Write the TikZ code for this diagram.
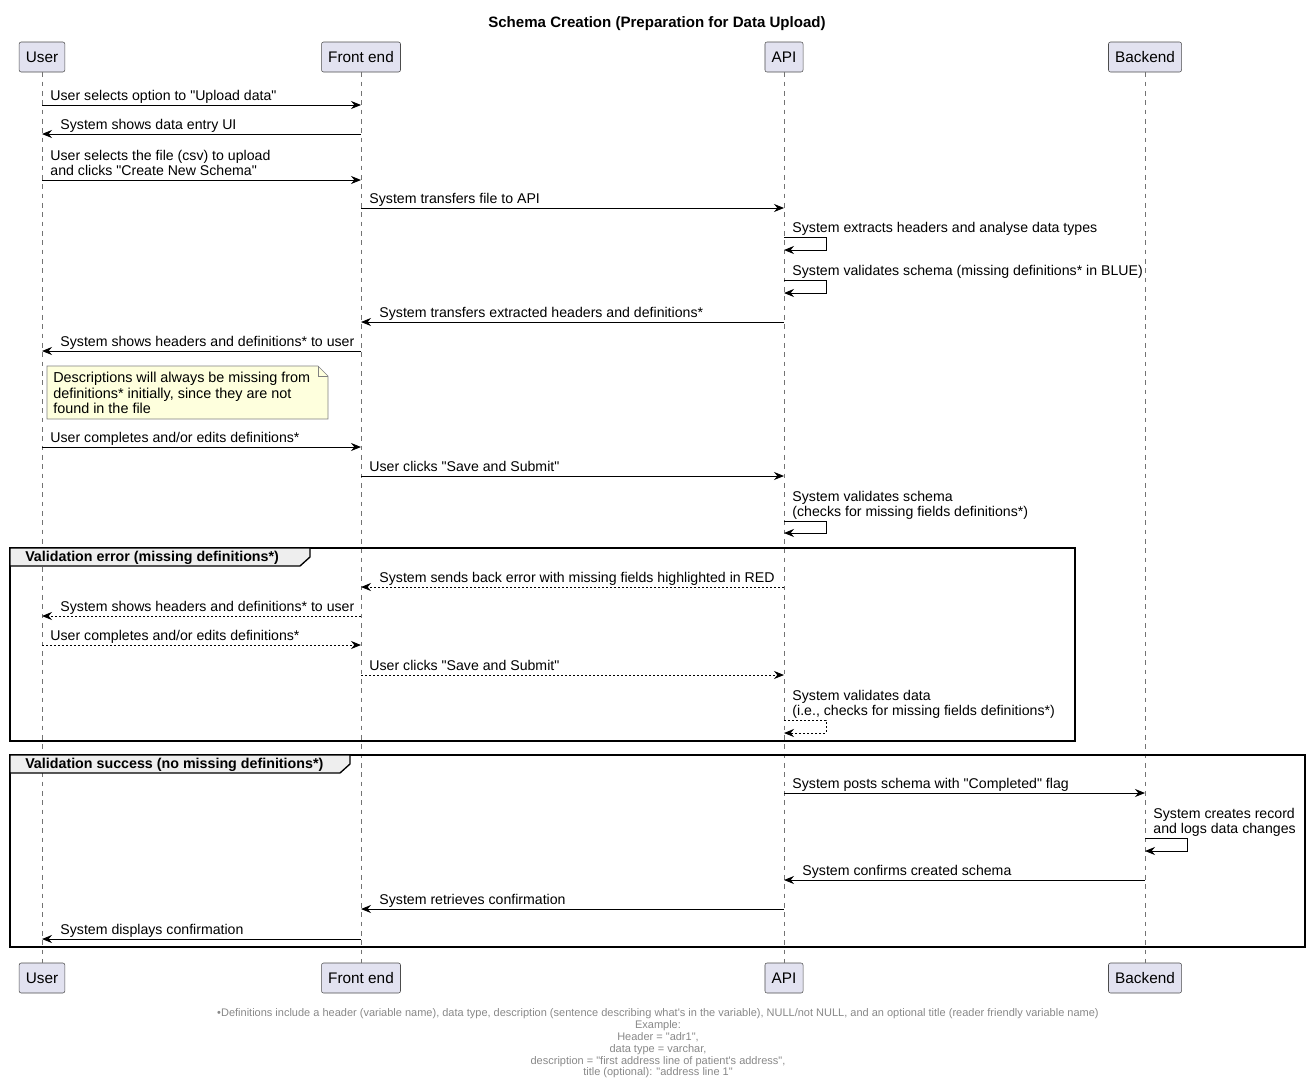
\documentclass[tikz,border=0pt]{standalone}
\usepackage{fontspec}
\setmainfont{Liberation Sans}
\usetikzlibrary{arrows.meta}

\definecolor{partfill}{HTML}{E2E2F0}
\definecolor{notefill}{HTML}{FEFFDD}
\definecolor{tabfill}{HTML}{EEEEEE}
\definecolor{footgray}{HTML}{888888}

\newcommand{\dq}{\textquotedbl}

\tikzset{
  part/.style={draw=black!70, fill=partfill, rounded corners=1.5pt, minimum height=22.5pt,
    inner xsep=5pt, font=\fontsize{11.5}{13}\selectfont},
  lifeline/.style={draw=black!55, line width=0.5pt, dash pattern=on 3.5pt off 3.5pt},
  msg/.style={draw=black, line width=0.7pt, -{Stealth[length=7.5pt,width=6pt,inset=2.5pt]}},
  reply/.style={msg, dash pattern=on 1.5pt off 1.5pt},
  lbl/.style={anchor=south west, inner sep=0pt, xshift=6pt, yshift=-0.7pt, align=left,
    font=\fontsize{10.6}{11.25}\selectfont, execute at end node=\strut},
  lblback/.style={lbl, xshift=7.5pt},
  grp/.style={draw=black, line width=1.2pt},
  grptab/.style={draw=black, line width=1pt, fill=tabfill},
  grplbl/.style={anchor=west, inner sep=0pt, font=\bfseries\fontsize{10.7}{12}\selectfont},
  notebox/.style={draw=black!50, line width=0.5pt, fill=notefill},
  notetext/.style={anchor=north west, inner sep=0pt, align=left,
    font=\fontsize{10.8}{11.6}\selectfont},
}

\begin{document}
\begin{tikzpicture}[x=0.75pt, y=-0.75pt]
  \useasboundingbox (0,0) rectangle (1310,1085);

  \node[font=\bfseries\fontsize{11.3}{13}\selectfont] (title) at (657,23.5)
    {Schema Creation (Preparation for Data Upload)};

  % participants
  \node[part] (userT) at (42,57) {User};
  \node[part] (feT) at (361,57) {Front end};
  \node[part] (apiT) at (784,57) {API};
  \node[part] (beT) at (1145,57) {Backend};
  \node[part] (userB) at (42,978) {User};
  \node[part] (feB) at (361,978) {Front end};
  \node[part] (apiB) at (784,978) {API};
  \node[part] (beB) at (1145,978) {Backend};

  \draw[lifeline] (userT) -- (userB);
  \draw[lifeline] (feT) -- (feB);
  \draw[lifeline] (apiT) -- (apiB);
  \draw[lifeline] (beT) -- (beB);

  % rows
  \coordinate (r1) at (0,105);
  \coordinate (r2) at (0,134);
  \coordinate (r3) at (0,180);
  \coordinate (r4) at (0,208);
  \coordinate (r5) at (0,237);  \coordinate (r5b) at (0,250);
  \coordinate (r6) at (0,280);  \coordinate (r6b) at (0,293);
  \coordinate (r7) at (0,322);
  \coordinate (r8) at (0,351);
  \coordinate (r9) at (0,447);
  \coordinate (r10) at (0,476);
  \coordinate (r11) at (0,521); \coordinate (r11b) at (0,533);
  \coordinate (r12) at (0,587);
  \coordinate (r13) at (0,616);
  \coordinate (r14) at (0,645);
  \coordinate (r15) at (0,675);
  \coordinate (r16) at (0,720); \coordinate (r16b) at (0,733);
  \coordinate (r17) at (0,793);
  \coordinate (r18) at (0,838); \coordinate (r18b) at (0,851);
  \coordinate (r19) at (0,880);
  \coordinate (r20) at (0,909);
  \coordinate (r21) at (0,939);

  % groups
  \draw[grp] (10,548) rectangle (1075,741);
  \draw[grptab] (10,548) -- (310,548) -- (310,557) -- (300,566) -- (10,566) -- cycle;
  \node[grplbl] (errlbl) at (25,558) {Validation error (missing definitions*)};
  \draw[grp] (10,755) rectangle (1305,947);
  \draw[grptab] (10,755) -- (350,755) -- (350,764) -- (340,773) -- (10,773) -- cycle;
  \node[grplbl] (oklbl) at (25,765) {Validation success (no missing definitions*)};

  % note
  \draw[notebox] (47,366) -- (318,366) -- (328,376) -- (328,419) -- (47,419) -- cycle;
  \draw[notebox, fill=none] (318,366) |- (328,376);
  \node[notetext] (note) at (53,372)
    {Descriptions will always be missing from\\definitions* initially, since they are not\\found in the file};

  % messages
  \draw[msg] (userT |- r1) -- (feT |- r1) node[lbl, at start] {User selects option to \dq Upload data\dq};
  \draw[msg] (feT |- r2) -- (userT |- r2) node[lblback, at end] {System shows data entry UI};
  \draw[msg] (userT |- r3) -- (feT |- r3) node[lbl, at start]
    {User selects the file (csv) to upload\\and clicks \dq Create New Schema\dq};
  \draw[msg] (feT |- r4) -- (apiT |- r4) node[lbl, at start] {System transfers file to API};
  \draw[msg] (apiT |- r5) node[lbl] {System extracts headers and analyse data types}
    -- ++(42,0) |- (apiT |- r5b);
  \draw[msg] (apiT |- r6) node[lbl] {System validates schema (missing definitions* in BLUE)}
    -- ++(42,0) |- (apiT |- r6b);
  \draw[msg] (apiT |- r7) -- (feT |- r7) node[lblback, at end]
    {System transfers extracted headers and definitions*};
  \draw[msg] (feT |- r8) -- (userT |- r8) node[lblback, at end]
    {System shows headers and definitions* to user};
  \draw[msg] (userT |- r9) -- (feT |- r9) node[lbl, at start] {User completes and/or edits definitions*};
  \draw[msg] (feT |- r10) -- (apiT |- r10) node[lbl, at start] {User clicks \dq Save and Submit\dq};
  \draw[msg] (apiT |- r11) node[lbl]
    {System validates schema\\(checks for missing fields definitions*)}
    -- ++(42,0) |- (apiT |- r11b);

  \draw[reply] (apiT |- r12) -- (feT |- r12) node[lblback, at end]
    {System sends back error with missing fields highlighted in RED};
  \draw[reply] (feT |- r13) -- (userT |- r13) node[lblback, at end]
    {System shows headers and definitions* to user};
  \draw[reply] (userT |- r14) -- (feT |- r14) node[lbl, at start] {User completes and/or edits definitions*};
  \draw[reply] (feT |- r15) -- (apiT |- r15) node[lbl, at start] {User clicks \dq Save and Submit\dq};
  \draw[reply] (apiT |- r16) node[lbl]
    {System validates data\\(i.e., checks for missing fields definitions*)}
    -- ++(42,0) |- (apiT |- r16b);

  \draw[msg] (apiT |- r17) -- (beT |- r17) node[lbl, at start] {System posts schema with \dq Completed\dq\ flag};
  \draw[msg] (beT |- r18) node[lbl] {System creates record\\and logs data changes}
    -- ++(42,0) |- (beT |- r18b);
  \draw[msg] (beT |- r19) -- (apiT |- r19) node[lblback, at end] {System confirms created schema};
  \draw[msg] (apiT |- r20) -- (feT |- r20) node[lblback, at end] {System retrieves confirmation};
  \draw[msg] (feT |- r21) -- (userT |- r21) node[lblback, at end] {System displays confirmation};

  % footer
  \node[align=center, text=footgray, inner sep=0pt, font=\fontsize{8.25}{8.85}\selectfont]
    (foot) at (658,1043.5)
    {•Definitions include a header (variable name), data type, description (sentence describing what\textquotesingle s in the variable), NULL/not NULL, and an optional title (reader friendly variable name)\\
     Example:\\
     Header = \dq adr1\dq,\\
     data type = varchar,\\
     description = \dq first address line of patient\textquotesingle s address\dq,\\
     title (optional): \dq address line 1\dq};
\end{tikzpicture}
\end{document}
